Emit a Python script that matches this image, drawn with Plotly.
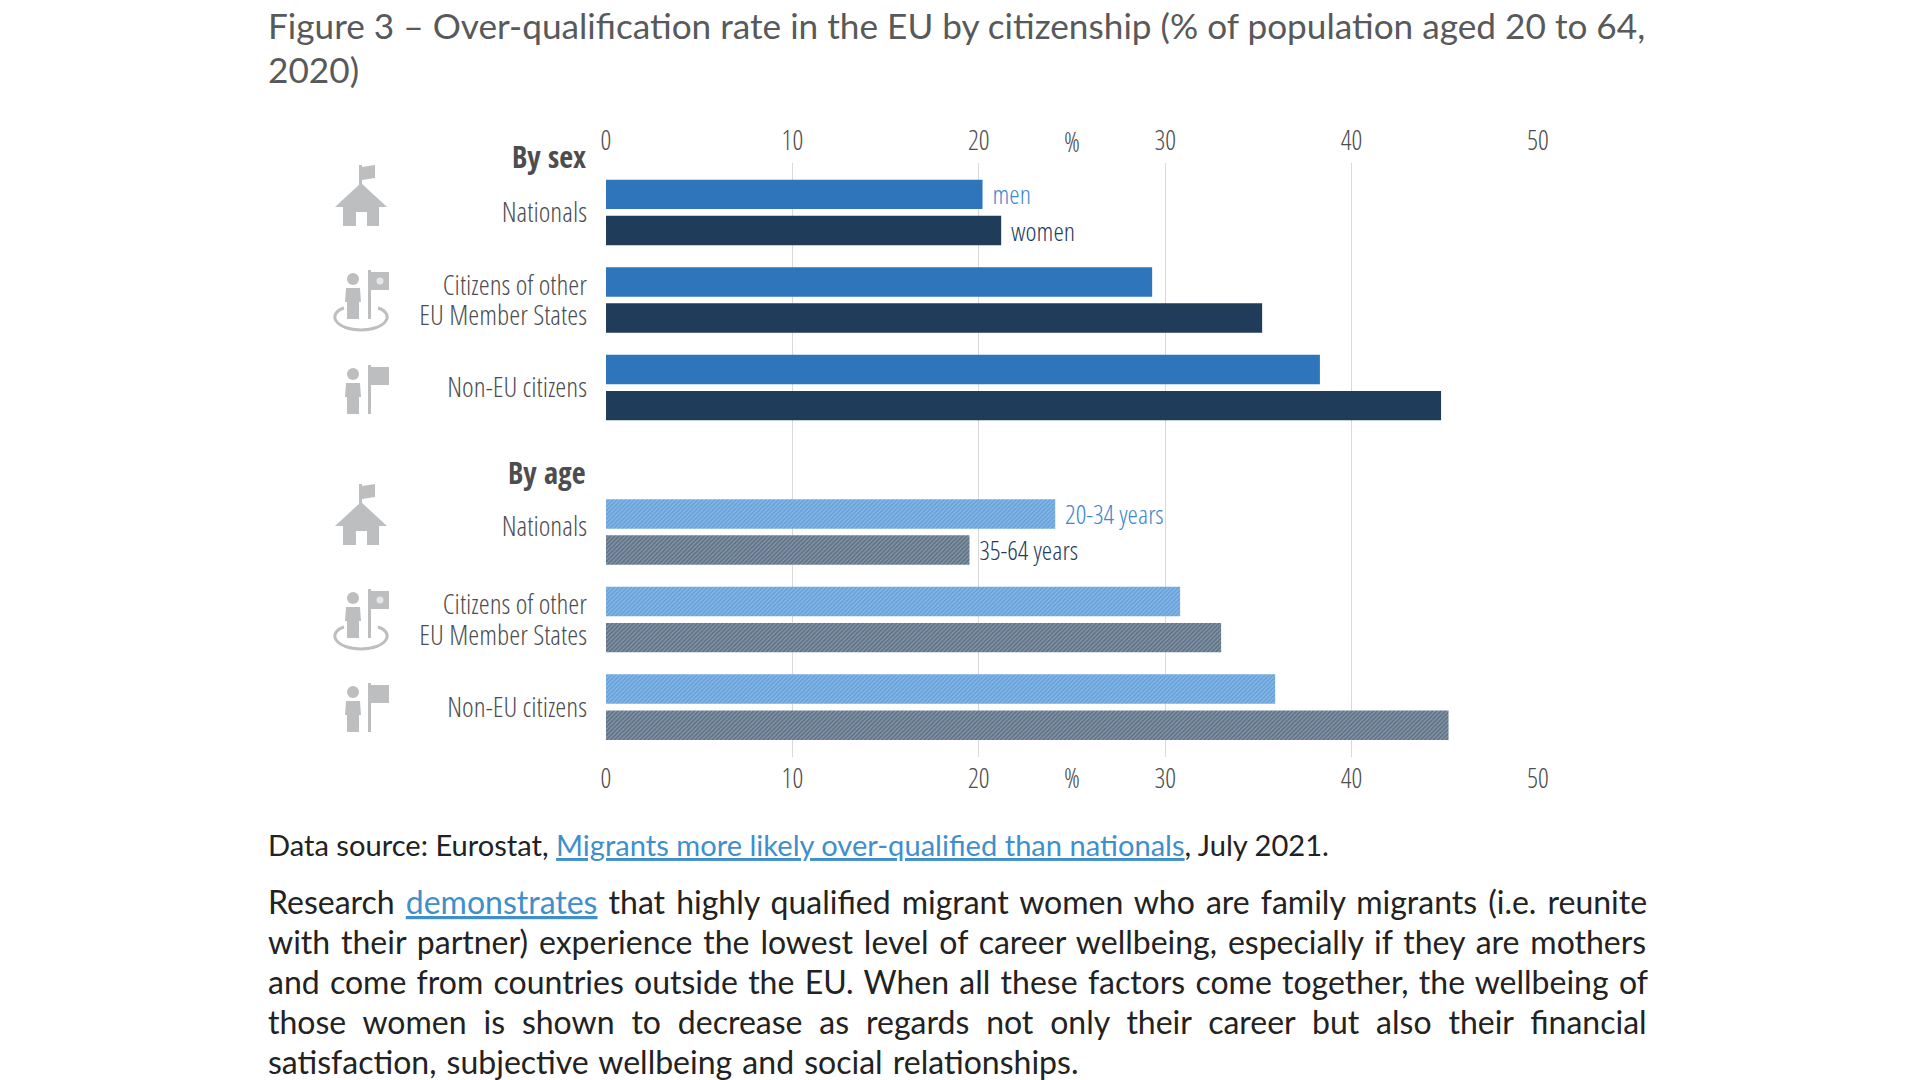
import plotly.graph_objects as go

W, H = 1920, 1080
PLOT_L, PLOT_R, PLOT_T, PLOT_B = 606, 1538, 163, 757

row_labels = ["Nationals", "Citizens of other", "EU Member States", "Non-EU citizens"]
men = [20.2, 29.3, 38.3]
women = [21.2, 35.2, 44.8]
age_20_34 = [24.1, 30.8, 35.9]
age_35_64 = [19.5, 33.0, 45.2]
x_ticks = [0, 10, 20, 30, 40, 50]

title_lines = ["Figure 3 – Over-qualification rate in the EU by citizenship (% of population aged 20 to 64,", "2020)"]
body_lines = [
    'Research <span style="color:#3f8fcc"><u>demonstrates</u></span> that highly qualified migrant women who are family migrants (i.e. reunite',
    "with their partner) experience the lowest level of career wellbeing, especially if they are mothers",
    "and come from countries outside the EU. When all these factors come together, the wellbeing of",
    "those women is shown to decrease as regards not only their career but also their financial",
    "satisfaction, subjective wellbeing and social relationships.",
]
body_word_gaps = [2.9, 2.7, 2.1, 8.7, 2]
source_line = 'Data source: Eurostat, <span style="color:#3f8fcc"><u>Migrants more likely over-qualified than nationals</u></span>, July 2021.'

BLUE = "#2e75bb"
NAVY = "#1f3d5b"
LABEL_BLUE = "#3f87cc"
GREY = "#4d4d4f"
ICON = "#bcbec0"
NARROW = "Open Sans Condensed Light, Open Sans Condensed, Lato"
BOLD_NARROW = "Open Sans Condensed, Lato"
BODY = "Lato"

# rows sit one unit apart, the age block starts a bit further down
sex_pos = [0, 1, 2]
age_pos = [p + 3.65 for p in sex_pos]
# the two-line label gets one tick per line so its spacing can stay tight
sex_label_pos = [sex_pos[0], sex_pos[1] - 0.175, sex_pos[1] + 0.175, sex_pos[2]]
age_label_pos = [age_pos[0] - 0.07, age_pos[1] - 0.175, age_pos[1] + 0.175, age_pos[2]]
# paper coordinates are relative to the plot area
x_px = lambda px: (px - PLOT_L) / (PLOT_R - PLOT_L)
y_px = lambda px: (PLOT_B - px) / (PLOT_B - PLOT_T)
narrow_font = dict(family=NARROW, size=27, color=GREY, weight=300)
label_font = dict(family=NARROW, size=28, color=GREY, weight=300)

fig = go.Figure()


def add_bars(values, pos, name, group, label, label_color, **marker):
    fig.add_trace(go.Bar(
        x=values, y=pos, name=name, orientation="h", offsetgroup=group,
        marker=dict(line=dict(width=0), **marker),
        text=["\u00a0" + label, "", ""], textposition="outside", cliponaxis=False, constraintext="none",
        textfont=dict(family=NARROW, size=26.5, color=label_color, weight=300),
    ))


add_bars(men, sex_pos, "men", "a", "men", LABEL_BLUE, color=BLUE)
add_bars(women, sex_pos, "women", "b", "women", NAVY, color=NAVY)
add_bars(age_20_34, age_pos, "20-34 years", "a", "20-34 years", LABEL_BLUE,
         color="#ffffff", pattern=dict(shape="/", size=3, solidity=0.6, fgcolor="#3f87cc", bgcolor="#8dbbe8"))
add_bars(age_35_64, age_pos, "35-64 years", "b", "35-64 years", NAVY,
         color="#ffffff", pattern=dict(shape="/", size=3, solidity=0.6, fgcolor="#2c4a68", bgcolor="#8c9aa8"))

# invisible trace so the top axis is drawn
fig.add_trace(go.Scatter(x=x_ticks, y=[0] * len(x_ticks), xaxis="x2", mode="lines",
                         line=dict(width=0), hoverinfo="skip", showlegend=False))

annotations = []


def add_text(text, x, y, size, color, family=BODY, anchor="left"):
    annotations.append(dict(text=text, x=x_px(x), y=y_px(y), xref="paper", yref="paper",
                            xanchor=anchor, yanchor="middle", showarrow=False, align=anchor,
                            font=dict(family=family, size=size, color=color)))


add_text(title_lines[0], 266, 25, 35.2, "#58595b")
add_text(title_lines[1], 266, 69, 35.2, "#58595b")
add_text("<b>By sex</b>", 588, 156, 30, GREY, BOLD_NARROW, "right")
add_text("<b>By age</b>", 588, 472, 30, GREY, BOLD_NARROW, "right")
add_text(source_line, 266, 844, 29.1, "#222222")
for i, line in enumerate(body_lines):
    add_text(f'<span style="word-spacing:{body_word_gaps[i]}px">{line}</span>', 266, 901 + i * 40.2, 32, "#222222")
for y in (141, 777):
    annotations.append(dict(text="%", x=25, xref="x", y=y_px(y), yref="paper", yanchor="middle", showarrow=False,
                            font=narrow_font))

shapes = []


def path(points, ox, oy, fill=True, width=0):
    d = ""
    for cmd, *xy in points:
        coords = [(x_px(ox + xy[i]), y_px(oy + xy[i + 1])) for i in range(0, len(xy), 2)]
        d += cmd + " ".join(f"{a:.5f} {b:.5f}" for a, b in coords) + " "
    shapes.append(dict(type="path", path=d.strip() + (" Z" if fill else ""), xref="paper", yref="paper",
                       fillcolor=ICON if fill else "rgba(0,0,0,0)",
                       line=dict(color=ICON, width=width)))


def dot(cx, cy, r, color=ICON):
    shapes.append(dict(type="circle", xref="paper", yref="paper", fillcolor=color, line=dict(width=0),
                       x0=x_px(cx - r), x1=x_px(cx + r), y0=y_px(cy - r), y1=y_px(cy + r)))


def house(ox, oy):
    path([("M", 24, 0), ("L", 27, 0), ("L", 27, 2), ("L", 40, 0), ("L", 40, 13), ("L", 27, 15), ("L", 27, 22),
          ("L", 24, 22)], ox, oy)
    path([("M", 26, 18), ("L", 52, 42), ("L", 44, 42), ("L", 44, 61), ("L", 32, 61), ("L", 32, 47), ("L", 21, 47),
          ("L", 21, 61), ("L", 8, 61), ("L", 8, 42), ("L", 0, 42)], ox, oy)


def person(ox, oy):
    dot(ox + 9, oy + 9, 6)
    path([("M", 2, 18), ("L", 16, 18), ("L", 17, 32), ("L", 15, 32), ("L", 15, 49), ("L", 3, 49), ("L", 3, 32),
          ("L", 1, 32)], ox, oy)
    path([("M", 24, 0), ("L", 27, 0), ("L", 27, 49), ("L", 24, 49)], ox, oy)
    path([("M", 27, 2), ("L", 45, 2), ("L", 45, 20), ("L", 27, 20)], ox, oy)


def eu_person(ox, oy):
    person(ox + 12, oy)
    dot(ox + 12 + 36, oy + 11, 3.5, "#e6e7e8")
    path([("M", 12, 38), ("C", -6, 44, 4, 60, 29, 60), ("C", 54, 60, 64, 44, 46, 38)], ox, oy, fill=False, width=3)


for oy in (165, 484):
    house(335, oy)
for oy in (270, 589):
    eu_person(332, oy)
for oy in (365, 683):
    person(344, oy)

fig.update_layout(
    width=W, height=H,
    margin=dict(l=PLOT_L, r=W - PLOT_R, t=PLOT_T, b=H - PLOT_B, autoexpand=False),
    barmode="group", bargap=0.174, bargroupgap=0.186,
    paper_bgcolor="white", plot_bgcolor="rgba(0,0,0,0)", showlegend=False,
    annotations=annotations, shapes=shapes,
    xaxis=dict(range=[0, 50], tickvals=x_ticks, showgrid=True, gridcolor="#d9d9d9", gridwidth=1, zeroline=False,
               ticks="", tickfont=narrow_font, ticklabelstandoff=3),
    xaxis2=dict(range=[0, 50], tickvals=x_ticks, overlaying="x", side="top", showgrid=False, zeroline=False,
                ticks="", tickfont=narrow_font, ticklabelstandoff=7),
    yaxis=dict(range=[6.22, -0.565], tickvals=sex_label_pos + age_label_pos, ticktext=row_labels + row_labels,
               showgrid=False, zeroline=False, ticks="", ticklabelstandoff=18, tickfont=label_font),
)

fig.write_html("out.html", config=dict(displayModeBar=False),
               post_script="document.body.style.margin='0';document.body.style.overflow='hidden';")
